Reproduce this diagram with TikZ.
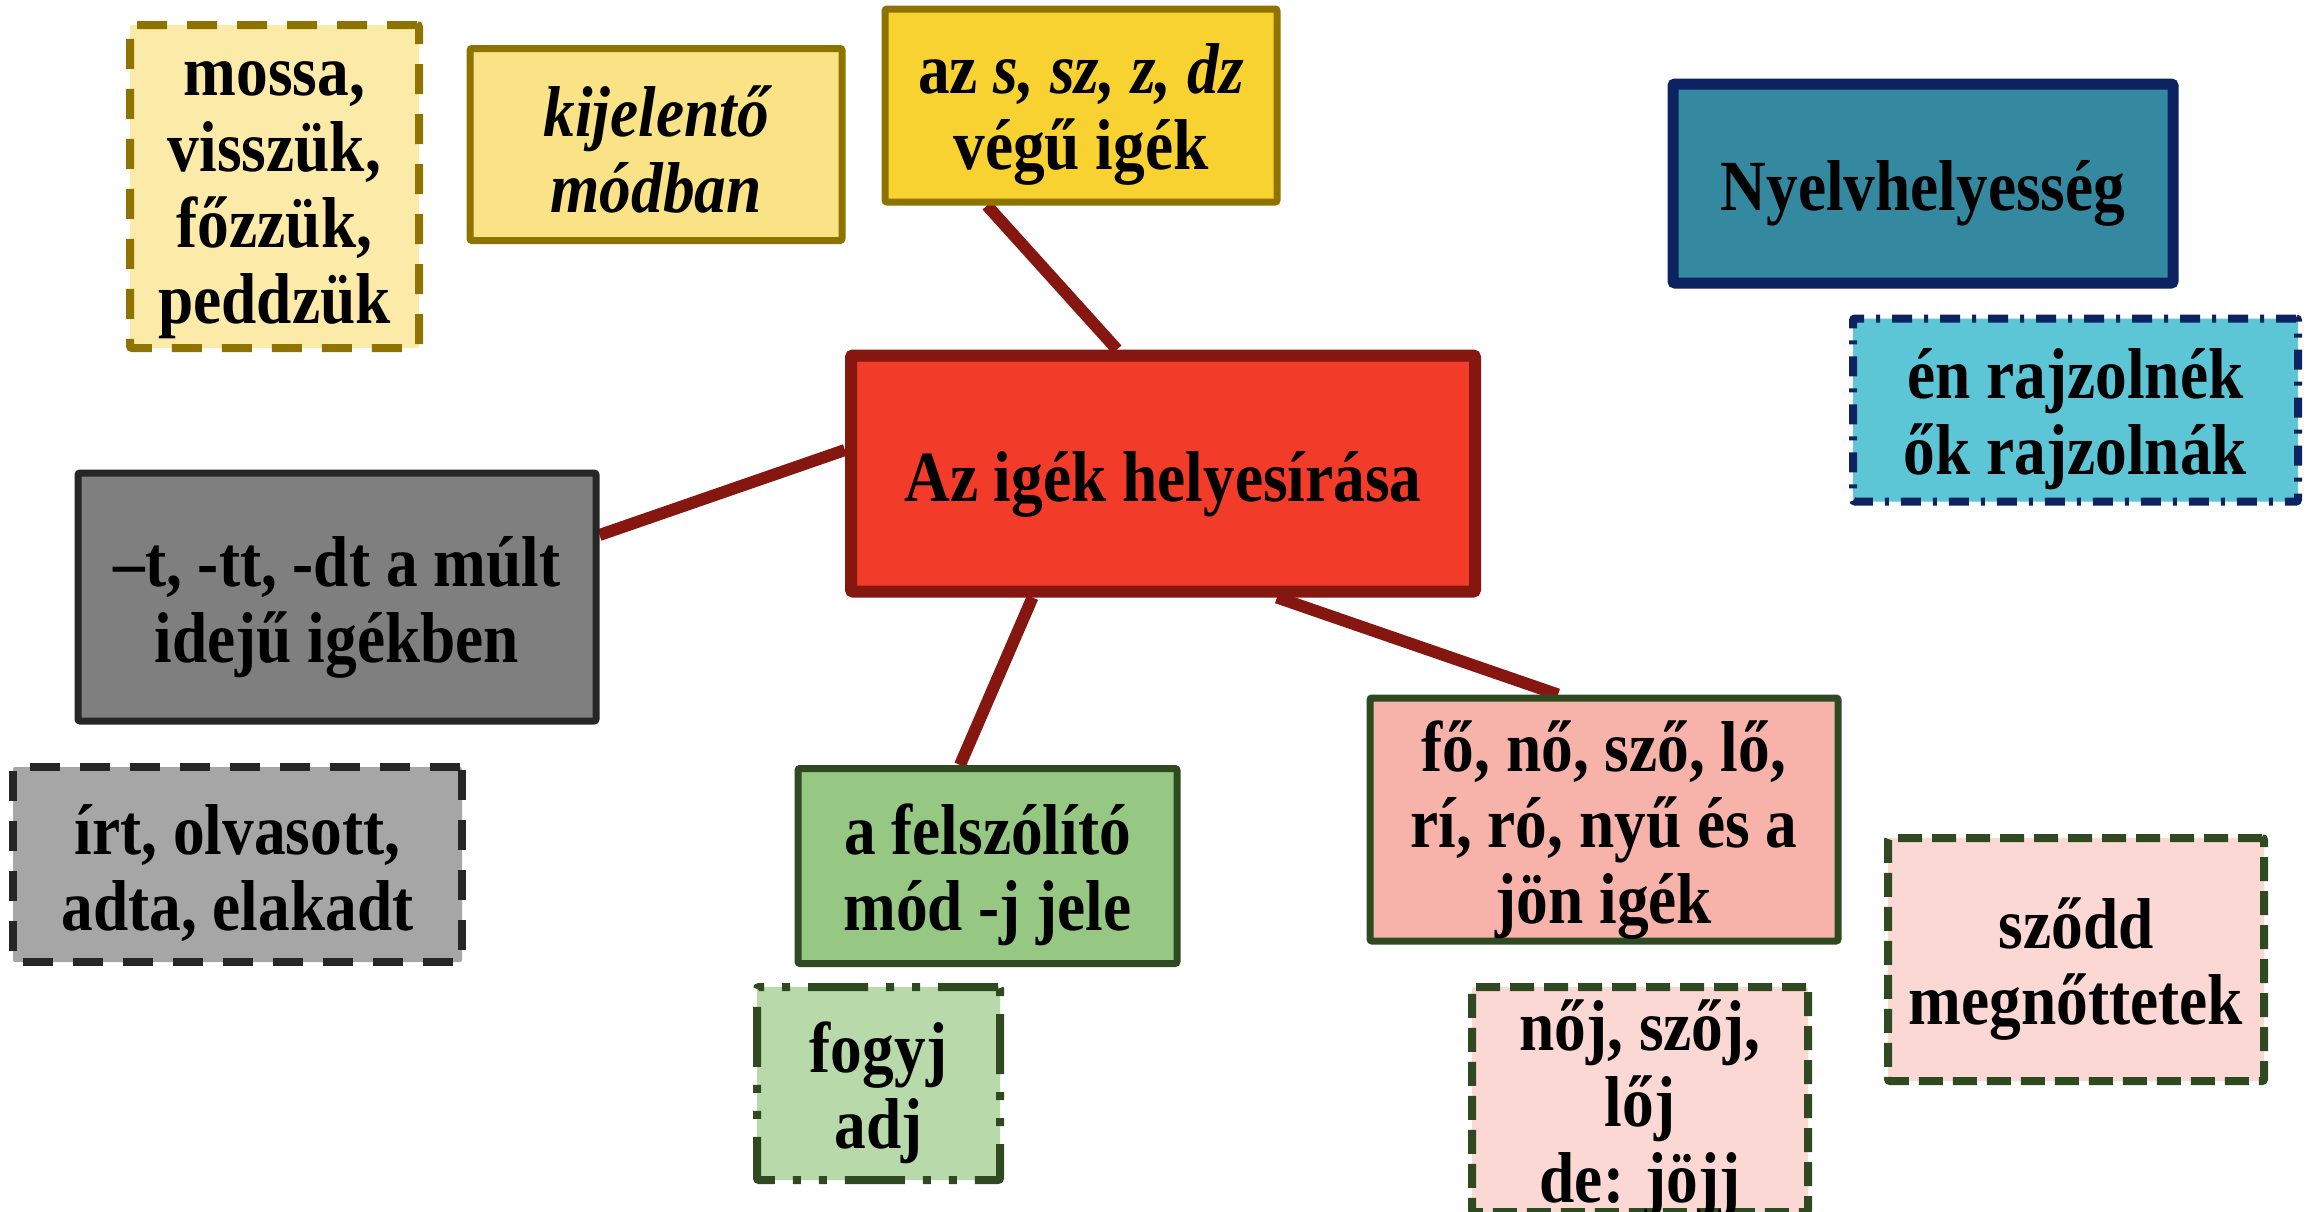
\documentclass[tikz,border=0pt]{standalone}
\usepackage{fontspec}
\setmainfont{Liberation Serif}[FakeStretch=0.88]
\usetikzlibrary{calc,backgrounds,shadows}
\definecolor{olivebd}{HTML}{8F7300}
\definecolor{mossaF}{HTML}{FCEBA8}
\definecolor{kijF}{HTML}{FAE386}
\definecolor{azF}{HTML}{F7D231}
\definecolor{navybd}{HTML}{0D2260}
\definecolor{nyelvF}{HTML}{34889F}
\definecolor{enF}{HTML}{5CC5D6}
\definecolor{redF}{HTML}{F23B28}
\definecolor{redbd}{HTML}{861710}
\definecolor{greyF}{HTML}{7F7F7F}
\definecolor{lgreyF}{HTML}{A6A6A6}
\definecolor{greybd}{HTML}{262626}
\definecolor{greenF}{HTML}{97C883}
\definecolor{lgreenF}{HTML}{B8DAAB}
\definecolor{greenbd}{HTML}{2F4A20}
\definecolor{pinkF}{HTML}{F7B2A9}
\definecolor{lpinkF}{HTML}{FBD8D4}
\tikzset{
  box/.style={inner sep=0pt, rounded corners=1pt, line width=3.5pt},
  txt/.style={font=\fontsize{36}{38}\selectfont\bfseries, align=center, inner sep=0pt},
  dashA/.style={line width=4pt, dash pattern=on 15pt off 10pt},
  dashB/.style={line width=4pt, dash pattern=on 12pt off 5pt},
  dashdot/.style={line width=4pt, dash pattern=on 10pt off 6pt on 2pt off 6pt},
  dashdotdot/.style={line width=4pt, dash pattern=on 30pt off 9pt on 4pt off 9pt on 4pt off 9pt},
  link/.style={draw=redbd, line width=6pt},
  shad/.style={drop shadow={opacity=0.35, shadow xshift=1.5pt, shadow yshift=-2.5pt}}
}
\begin{document}
\begin{tikzpicture}[x=0.5pt,y=-0.5pt]
\useasboundingbox (0,0) rectangle (2313,1211);
% boxes
\node[box, fill=mossaF, draw=olivebd, dashA, minimum width=144.5pt, minimum height=161.5pt] (mossa) at (274.5,186.5) {};
\node[box, fill=kijF, draw=olivebd, minimum width=186pt, minimum height=96pt] (kij) at (656,144.5) {};
\node[box, fill=azF, draw=olivebd, minimum width=196pt, minimum height=96.5pt] (az) at (1081,105.5) {};
\node[box, shad, fill=nyelvF, draw=navybd, line width=5.5pt, minimum width=250pt, minimum height=99.5pt] (nyelv) at (1923,183.5) {};
\node[box, fill=enF, draw=navybd, dashdot, minimum width=222.5pt, minimum height=91.5pt] (en) at (2075.5,410) {};
\node[box, shad, fill=redF, draw=redbd, line width=6pt, minimum width=312pt, minimum height=118pt] (c) at (1163,473.5) {};
\node[box, fill=greyF, draw=greybd, minimum width=259pt, minimum height=124pt] (t) at (337,597) {};
\node[box, fill=lgreyF, draw=greybd, dashA, minimum width=224.5pt, minimum height=97.5pt] (irt) at (237.5,864.5) {};
\node[box, fill=greenF, draw=greenbd, minimum width=189.5pt, minimum height=97.5pt] (felsz) at (987.5,866) {};
\node[box, fill=lgreenF, draw=greenbd, dashdotdot, minimum width=121.5pt, minimum height=96.5pt] (fogyj) at (878.5,1083.5) {};
\node[box, fill=pinkF, draw=greenbd, minimum width=234pt, minimum height=121.5pt] (fo) at (1604,819.5) {};
\node[box, fill=lpinkF, draw=greenbd, dashB, minimum width=188pt, minimum height=121.5pt] (szodd) at (2076,959.5) {};
\node[box, fill=lpinkF, draw=greenbd, dashB, minimum width=168pt, minimum height=112.5pt] (noj) at (1640,1099.5) {};
% texts
\node[txt] (mossaT) at ($(mossa)+(0,14)$) {mossa,\\visszük,\\főzzük,\\peddzük};
\node[txt, font=\fontsize{36}{38}\selectfont\bfseries\itshape] (kijT) at ($(kij)+(0,5)$) {kijelentő\\módban};
\node[txt] (azT) at ($(az)+(0,9)$) {az \textit{s, sz, z, dz}\\végű igék};
\node[txt] (nyelvT) at ($(nyelv)+(0,10)$) {Nyelvhelyesség};
\node[txt] (enT) at ($(en)+(0,9)$) {én rajzolnék\\ők rajzolnák};
\node[txt] (cT) at ($(c)+(0,11)$) {Az igék helyesírása};
\node[txt] (tT) at ($(t)+(0,10)$) {–t, -tt, -dt a múlt\\idejű igékben};
\node[txt] (irtT) at ($(irt)+(0,9)$) {írt, olvasott,\\adta, elakadt};
\node[txt] (felszT) at ($(felsz)+(0,9)$) {a felszólító\\mód -j jele};
\node[txt] (fogyjT) at ($(fogyj)+(0,9)$) {fogyj\\adj};
\node[txt] (foT) at ($(fo)+(0,11)$) {fő, nő, sző, lő,\\rí, ró, nyű és a\\jön igék};
\node[txt] (szoddT) at ($(szodd)+(0,10)$) {sződd\\megnőttetek};
\node[txt] (nojT) at ($(noj)+(0,9)$) {nőj, szőj,\\lőj\\de: jöjj};
\begin{scope}[on background layer]
\draw[link] ($(c.north)+(-46,0)$) -- ($(az.south)+(-94,0)$);
\draw[link] ($(c.west)+(0,-23.5)$) -- ($(t.east)+(0,-62)$);
\draw[link] ($(c.south)+(-130.5,0)$) -- ($(felsz.north)+(-27.5,0)$);
\draw[link] ($(c.south)+(114,0)$) -- ($(fo.north)+(-46,0)$);
\end{scope}
\end{tikzpicture}
\end{document}
